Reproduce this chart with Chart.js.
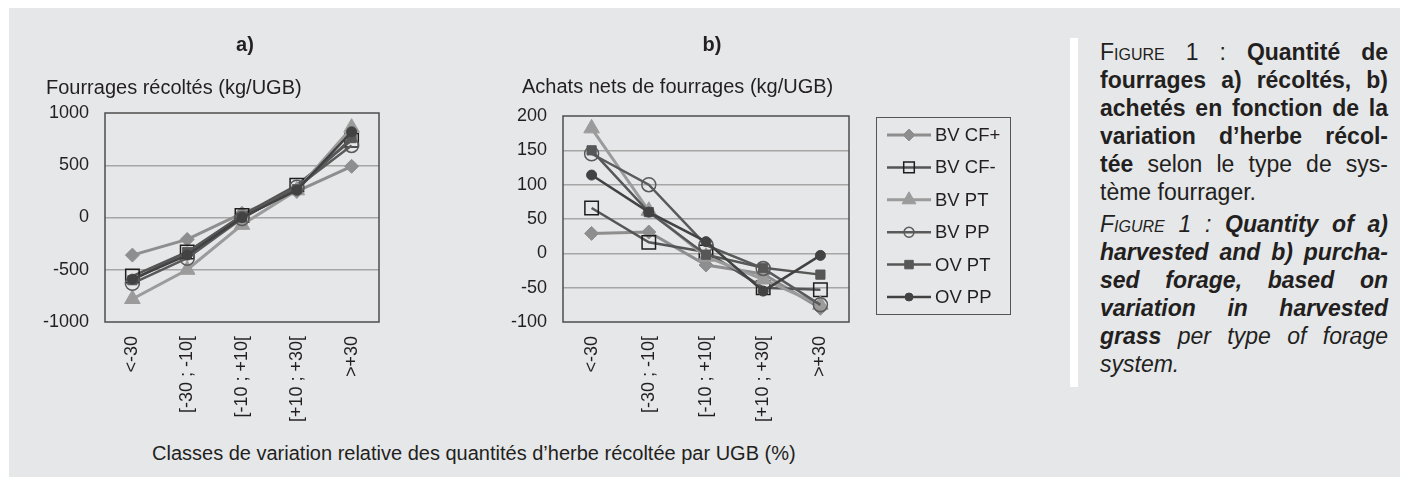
<!DOCTYPE html>
<html>
<head>
<meta charset="utf-8">
<script src="https://cdn.jsdelivr.net/npm/chart.js@4.4.1/dist/chart.umd.min.js"></script>
<style>
  html, body { margin: 0; padding: 0; background: #ffffff; }
  body { width: 1403px; height: 477px; position: relative; overflow: hidden;
         font-family: "Liberation Sans", Arial, Helvetica, sans-serif; color: #231f20; }
  #panel { position: absolute; left: 9px; top: 8px; width: 1391px; height: 469px; background: #e6e7e9; }
  #wa { position: absolute; left: 0; top: 0; width: 450px; height: 440px; }
  #wb { position: absolute; left: 450px; top: 0; width: 570px; height: 440px; }
  #xtitle { position: absolute; left: 152px; top: 441px; font-size: 20px; line-height: 24px; white-space: nowrap; }
  #bar { position: absolute; left: 1070px; top: 38px; width: 8px; height: 349px; background: #ffffff; }
  #cap { position: absolute; left: 1100px; top: 38px; width: 288px; font-size: 23px; }
  #cap .l { height: 28px; line-height: 28px; text-align: justify; text-align-last: justify; white-space: normal; }
  #cap .last { text-align: left; text-align-last: left; }
  #cap .gap { height: 4px; }
  .sc { font-variant: small-caps; }
</style>
</head>
<body>
<div id="panel"></div>
<div id="wa"><canvas id="ca" width="450" height="440"></canvas></div>
<div id="wb"><canvas id="cb" width="570" height="440"></canvas></div>
<div id="xtitle">Classes de variation relative des quantités d’herbe récoltée par UGB (%)</div>
<div id="bar"></div>
<div id="cap">
  <div class="l"><span class="sc">Figure</span> 1 : <b>Quantité de</b></div>
  <div class="l"><b>fourrages a) récoltés, b)</b></div>
  <div class="l"><b>achetés en fonction de la</b></div>
  <div class="l"><b>variation d’herbe récol-</b></div>
  <div class="l"><b>tée</b> selon le type de sys-</div>
  <div class="l last">tème fourrager.</div>
  <div class="gap"></div>
  <div class="l"><i><span class="sc">Figure</span> 1 : <b>Quantity of a)</b></i></div>
  <div class="l"><i><b>harvested and b) purcha-</b></i></div>
  <div class="l"><i><b>sed forage, based on</b></i></div>
  <div class="l"><i><b>variation in harvested</b></i></div>
  <div class="l"><i><b>grass</b> per type of forage</i></div>
  <div class="l last"><i>system.</i></div>
</div>
<script>
// ---------- data ----------
const categories = ['<-30', '[-30 ; -10[', '[-10 ; +10[', '[+10 ; +30[', '>+30'];
const seriesNames = ['BV CF+', 'BV CF-', 'BV PT', 'BV PP', 'OV PT', 'OV PP'];
const harvestedTicks = [-1000, -500, 0, 500, 1000];
const purchasedTicks = [-100, -50, 0, 50, 100, 150, 200];

// a) Fourrages récoltés (kg/UGB)
const harvestedBVCFplus  = [-360, -210, 40, 250, 490];
const harvestedBVCFminus = [-560, -330, 20, 310, 740];
const harvestedBVPT      = [-780, -500, -70, 260, 860];
const harvestedBVPP      = [-630, -390, -10, 290, 690];
const harvestedOVPT      = [-600, -330, 0, 270, 760];
const harvestedOVPP      = [-590, -360, 0, 260, 820];

// b) Achats nets de fourrages (kg/UGB)
const purchasedBVCFplus  = [29, 31, -17, -30, -80];
const purchasedBVCFminus = [66, 16, 2, -50, -53];
const purchasedBVPT      = [182, 62, -5, -38, -75];
const purchasedBVPP      = [145, 100, 12, -22, -75];
const purchasedOVPT      = [150, 60, -2, -21, -31];
const purchasedOVPP      = [114, 60, 17, -55, -3];

const harvestedSeries = [harvestedBVCFplus, harvestedBVCFminus, harvestedBVPT, harvestedBVPP, harvestedOVPT, harvestedOVPP];
const purchasedSeries = [purchasedBVCFplus, purchasedBVCFminus, purchasedBVPT, purchasedBVPP, purchasedOVPT, purchasedOVPP];

// ---------- styles ----------
const FONT = '"Liberation Sans", Arial, Helvetica, sans-serif';
const TXT = '#231f20';
const styles = [
  { line: '#8e8e8e', lw: 3,   ps: 'rectRot',  r: 7,   fill: '#8e8e8e', stroke: '#8e8e8e', bw: 1,   lr: 6 },
  { line: '#555555', lw: 2.5, ps: 'rect',     r: 9.5, fill: 'rgba(0,0,0,0)', stroke: '#1e1e1e', bw: 1.5, lr: 7.5 },
  { line: '#9b9b9b', lw: 3,   ps: 'triangle', r: 9,   fill: '#9b9b9b', stroke: '#9b9b9b', bw: 1,   lr: 8 },
  { line: '#5a5a5a', lw: 2.5, ps: 'circle',   r: 7,   fill: 'rgba(0,0,0,0)', stroke: '#5a5a5a', bw: 1.5, lr: 5 },
  { line: '#575757', lw: 2.5, ps: 'rect',     r: 6.5, fill: '#575757', stroke: '#575757', bw: 1,   lr: 6 },
  { line: '#424242', lw: 2.5, ps: 'circle',   r: 5,   fill: '#424242', stroke: '#424242', bw: 1,   lr: 4 }
];

function datasets(series) {
  return series.map((vals, i) => ({
    label: seriesNames[i],
    data: vals,
    borderColor: styles[i].line,
    borderWidth: styles[i].lw,
    pointStyle: styles[i].ps,
    pointRadius: styles[i].r,
    pointHoverRadius: styles[i].r,
    pointBackgroundColor: styles[i].fill,
    pointBorderColor: styles[i].stroke,
    pointBorderWidth: styles[i].bw,
    tension: 0,
    fill: false,
    order: series.length - i
  }));
}

const framePlugin = {
  id: 'frame',
  beforeDatasetsDraw(chart) {
    const { ctx, chartArea: a } = chart;
    ctx.save();
    ctx.strokeStyle = '#4d4d4d';
    ctx.lineWidth = 1.5;
    ctx.strokeRect(a.left, a.top, a.right - a.left, a.bottom - a.top);
    ctx.restore();
  }
};

const textPlugin = {
  id: 'texts',
  afterDraw(chart, args, opts) {
    const ctx = chart.ctx;
    ctx.save();
    ctx.fillStyle = TXT;
    ctx.textBaseline = 'middle';
    (opts.items || []).forEach(t => {
      ctx.font = t.font;
      ctx.textAlign = t.align;
      ctx.fillText(t.text, t.x, t.y);
    });
    ctx.restore();
  }
};

const legendPlugin = {
  id: 'boxLegend',
  afterDraw(chart, args, opts) {
    if (!opts.show) return;
    const ctx = chart.ctx;
    ctx.save();
    ctx.strokeStyle = '#555555';
    ctx.lineWidth = 1;
    ctx.strokeRect(opts.x + 0.5, opts.y + 0.5, opts.w, opts.h);
    chart.data.datasets.forEach((ds, i) => {
      const y = opts.firstY + i * opts.step;
      const st = styles[i];
      ctx.strokeStyle = st.line;
      ctx.lineWidth = st.lw;
      ctx.beginPath();
      ctx.moveTo(opts.lineX0, y);
      ctx.lineTo(opts.lineX1, y);
      ctx.stroke();
      ctx.fillStyle = st.fill;
      ctx.strokeStyle = st.stroke;
      ctx.lineWidth = st.bw;
      Chart.helpers.drawPoint(ctx, { pointStyle: st.ps, rotation: 0, radius: st.lr, borderWidth: st.bw },
                              (opts.lineX0 + opts.lineX1) / 2, y);
      ctx.fillStyle = TXT;
      ctx.font = '18.5px ' + FONT;
      ctx.textAlign = 'left';
      ctx.textBaseline = 'middle';
      ctx.fillText(ds.label, opts.textX, y + 1);
    });
    ctx.restore();
  }
};

function makeChart(id, series, ticks, cfg) {
  const min = ticks[0], max = ticks[ticks.length - 1];
  return new Chart(document.getElementById(id), {
    type: 'line',
    data: { labels: categories, datasets: datasets(series) },
    plugins: [framePlugin, textPlugin, legendPlugin],
    options: {
      responsive: false,
      animation: false,
      events: [],
      layout: { padding: cfg.padding },
      plugins: {
        legend: { display: false },
        tooltip: { enabled: false },
        title: { display: false },
        texts: { items: cfg.texts },
        boxLegend: cfg.legend || { show: false }
      },
      scales: {
        x: {
          type: 'category',
          offset: true,
          grid: { display: false, drawTicks: false },
          border: { display: false },
          ticks: {
            autoSkip: false, maxRotation: 90, minRotation: 90, padding: 14,
            color: TXT, font: { family: FONT, size: 18 }
          },
          afterFit(scale) { scale.height = 110; }
        },
        y: {
          min: min, max: max,
          grid: {
            drawTicks: false,
            lineWidth: 1.5,
            color: (c) => (c.tick && (c.tick.value === min || c.tick.value === max)) ? 'rgba(0,0,0,0)' : '#a6a6a6'
          },
          border: { display: false },
          ticks: {
            stepSize: ticks[1] - ticks[0], padding: 16,
            color: TXT, font: { family: FONT, size: 18 },
            callback: (v) => String(v)
          },
          afterFit(scale) { scale.width = cfg.yWidth; }
        }
      }
    }
  });
}

makeChart('ca', harvestedSeries, harvestedTicks, {
  padding: { left: 0, top: 113, right: 71, bottom: 8 },
  yWidth: 105,
  texts: [
    { text: 'a)', x: 245, y: 45, font: 'bold 20px ' + FONT, align: 'center' },
    { text: 'Fourrages récoltés (kg/UGB)', x: 46, y: 88, font: '20px ' + FONT, align: 'left' }
  ]
});

makeChart('cb', purchasedSeries, purchasedTicks, {
  padding: { left: 0, top: 116, right: 171, bottom: 8 },
  yWidth: 113,
  texts: [
    { text: 'b)', x: 262, y: 45, font: 'bold 20px ' + FONT, align: 'center' },
    { text: 'Achats nets de fourrages (kg/UGB)', x: 72, y: 87, font: '20px ' + FONT, align: 'left' }
  ],
  legend: { show: true, x: 426, y: 117, w: 134, h: 197, firstY: 135, step: 32.4,
            lineX0: 437, lineX1: 481, textX: 485 }
});
</script>
</body>
</html>
